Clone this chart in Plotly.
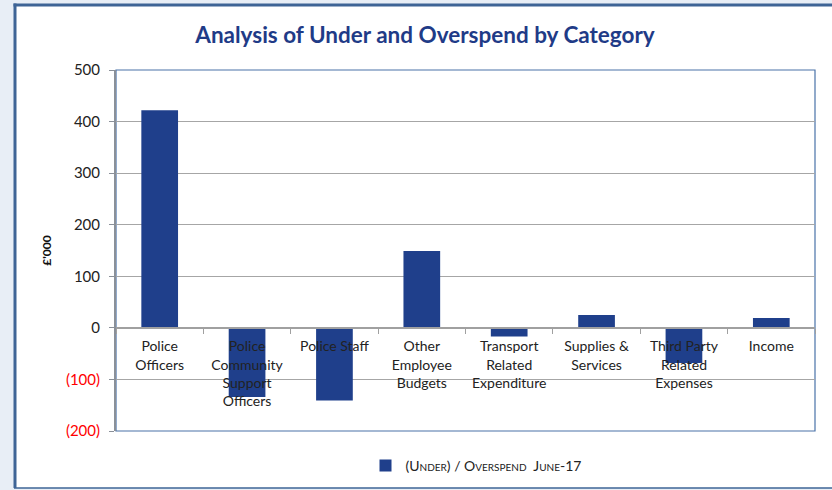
import plotly.graph_objects as go

categories = [
    "Police<br>Officers",
    "Police<br>Community<br>Support<br>Officers",
    "Police Staff",
    "Other<br>Employee<br>Budgets",
    "Transport<br>Related<br>Expenditure",
    "Supplies &<br>Services",
    "Third Party<br>Related<br>Expenses",
    "Income",
]
values = [422, -134, -141, 149, -17, 25, -68, 19]
series_name = "(Under) / Overspend  June-17"
ytick_vals = [500, 400, 300, 200, 100, 0, -100, -200]
ytick_text = ["500", "400", "300", "200", "100", "0",
              '<span style="color:#FF0000">(100)</span>',
              '<span style="color:#FF0000">(200)</span>']

W, H = 832, 490
L, R, T, B = 116, 815, 70, 431
pw, ph = R - L, B - T

def px(x):
    return (x - L) / pw

def py(y):
    return (B - y) / ph

BORDER = "#3E6496"
BAR = "#1F3F8B"
FONT = "Lato"

fig = go.Figure()
fig.add_trace(go.Bar(
    x=categories, y=values, name=series_name,
    marker=dict(color=BAR, line=dict(width=0)),
    showlegend=True,
))

shapes = [
    dict(type="rect", xref="paper", yref="paper", x0=px(14), x1=px(840), y0=py(488), y1=py(4),
         fillcolor="white", line=dict(width=0), layer="below"),
    dict(type="line", xref="paper", yref="paper", x0=px(15), x1=px(15), y0=py(488), y1=py(3.5),
         line=dict(color=BORDER, width=3), layer="below"),
    dict(type="line", xref="paper", yref="paper", x0=px(13.5), x1=px(840), y0=py(5), y1=py(5),
         line=dict(color=BORDER, width=3), layer="below"),
    dict(type="line", xref="paper", yref="paper", x0=px(14), x1=px(840), y0=py(488), y1=py(488),
         line=dict(color=BORDER, width=1.5), layer="below"),
    dict(type="rect", xref="paper", yref="paper", x0=0, x1=1, y0=0, y1=1,
         line=dict(color="#4A72A8", width=1.2), fillcolor="rgba(0,0,0,0)", layer="below"),
]

fig.update_layout(
    width=W, height=H,
    margin=dict(l=L, r=W - R, t=T, b=H - B, autoexpand=False),
    paper_bgcolor="#E8EEF6",
    plot_bgcolor="white",
    font=dict(family=FONT, color="#222222"),
    title=dict(text="<b>Analysis of Under and Overspend by Category</b>",
               font=dict(family=FONT, size=22.5, color="#1F3B87"),
               x=425 / W, xanchor="center", y=1 - 35 / H, yanchor="middle"),
    bargap=0.58,
    shapes=shapes,
    showlegend=True,
    legend=dict(orientation="h", x=px(476), xanchor="center", y=py(466), yanchor="middle",
                font=dict(family=FONT, size=14, color="#222222", variant="small-caps"),
                bgcolor="rgba(0,0,0,0)", itemwidth=30),
    xaxis=dict(
        anchor="free", position=200 / 700, automargin=False,
        showline=True, linecolor="#A0A0A0", linewidth=1.5,
        ticks="outside", tickson="boundaries", ticklen=5, tickcolor="#A0A0A0",
        showgrid=False, tickfont=dict(family=FONT, size=14, color="#222222"),
        tickangle=0, ticklabelstandoff=6,
    ),
    yaxis=dict(
        range=[-200, 500], tickvals=ytick_vals, ticktext=ytick_text, automargin=False,
        showline=True, linecolor="#8A9099", linewidth=2,
        ticks="outside", ticklen=5, tickcolor="#8A9099",
        showgrid=True, gridcolor="#A6A6A6", gridwidth=1,
        zeroline=False, ticklabelstandoff=6,
        tickfont=dict(family=FONT, size=15, color="#222222"),
        title=dict(text="<b>£'000</b>", font=dict(family=FONT, size=12, color="#111111"), standoff=12),
    ),
)

fig.write_html("out.html", config={"displayModeBar": False},
               post_script="document.body.style.margin='0';document.body.style.padding='0';")
